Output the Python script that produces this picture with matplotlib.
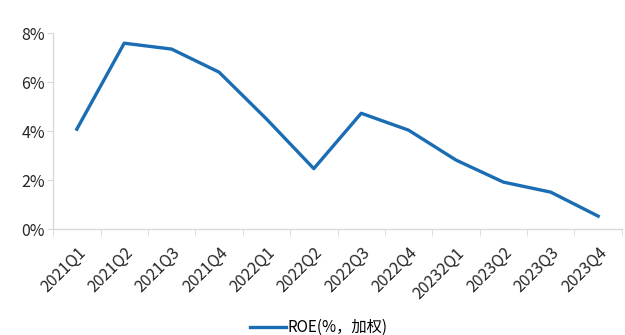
import numpy as np
import matplotlib.pyplot as plt
from matplotlib.ticker import FuncFormatter

plt.rcParams['font.family'] = ['Noto Sans CJK SC', 'DejaVu Sans']

quarters = ['2021Q1', '2021Q2', '2021Q3', '2021Q4', '2022Q1', '2022Q2',
            '2022Q3', '2022Q4', '20232Q1', '2023Q2', '2023Q3', '2023Q4']
roe = [4.08, 7.59, 7.35, 6.41, 4.5, 2.47, 4.73, 4.04, 2.82, 1.92, 1.51, 0.53]

fig = plt.figure(figsize=(6.25, 3.35), dpi=100)
ax = fig.add_axes([0.085, 0.316, 0.91, 0.585])

x = np.arange(len(quarters))
ax.plot(x, roe, color='#1a6db3', linewidth=2.4, label='ROE(%，加权)')

ax.set_xlim(-0.5, len(quarters) - 0.5)
ax.set_ylim(0, 8)
ax.set_yticks([0, 2, 4, 6, 8])
ax.yaxis.set_major_formatter(FuncFormatter(lambda v, p: f'{v:.0f}%'))
ax.set_xticks(x)
ax.set_xticklabels(quarters, rotation=45, ha='right', rotation_mode='anchor')
ax.set_xticks(np.arange(-0.5, len(quarters)), minor=True)

for s in ['top', 'right']:
    ax.spines[s].set_visible(False)
for s in ['left', 'bottom']:
    ax.spines[s].set_color('#d9d9d9')
    ax.spines[s].set_linewidth(1)

ax.tick_params(axis='y', length=4, color='#d9d9d9', labelsize=11.5, labelcolor='#262626', pad=2)
ax.tick_params(axis='x', which='major', length=0, labelsize=11.5, labelcolor='#262626', pad=11)
ax.tick_params(axis='x', which='minor', length=5, color='#d9d9d9')

fig.legend(loc='lower center', bbox_to_anchor=(0.51, -0.045), frameon=False,
           fontsize=11, handlelength=2.4, handletextpad=0.1)

fig.savefig('out.png', dpi=100)
